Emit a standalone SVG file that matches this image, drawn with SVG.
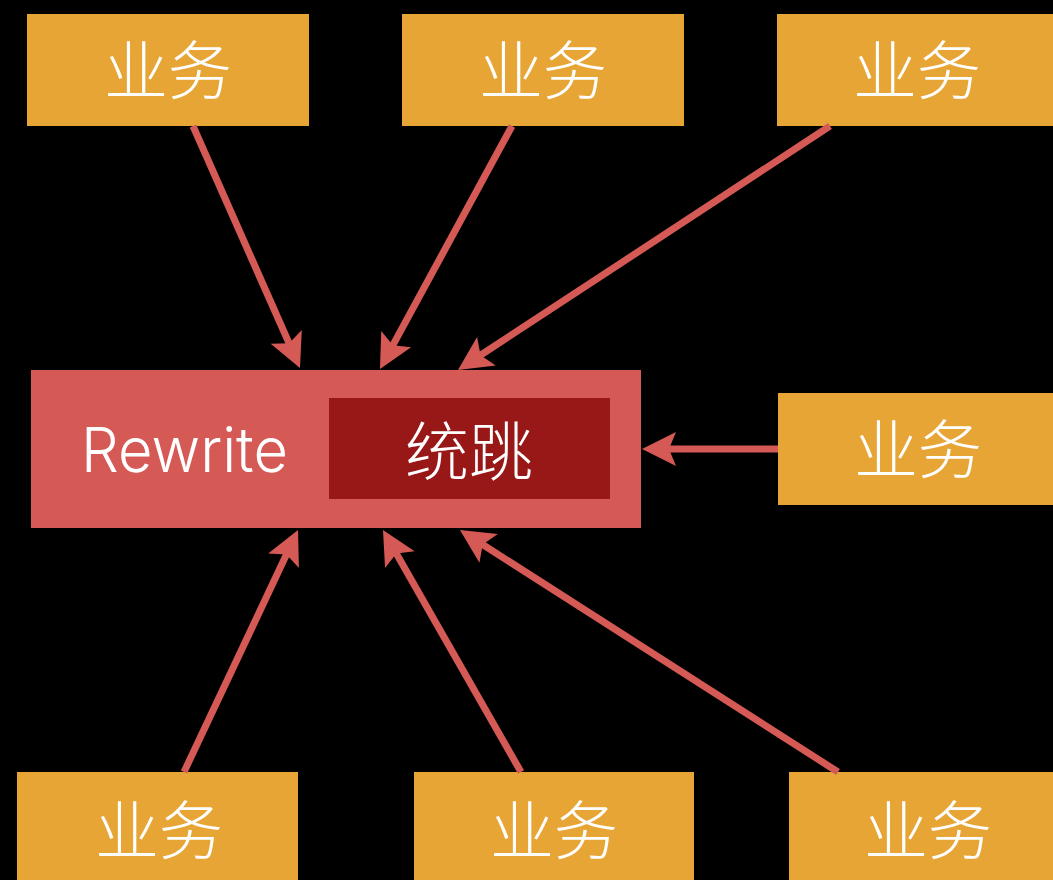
<svg xmlns="http://www.w3.org/2000/svg" width="1053" height="880" viewBox="0 0 1053 880">
<style>
.biz{fill:#E7A535}
.lbl{font-family:"Noto Sans CJK SC","Noto Sans",sans-serif;font-size:64px;font-weight:300;fill:#fff;text-anchor:middle}
.conn line{stroke:#D55A56;stroke-width:7;fill:none}
</style>
<defs>
<marker id="ah" viewBox="0 0 34 34" markerUnits="userSpaceOnUse" markerWidth="34" markerHeight="34" refX="14" refY="17" orient="auto" overflow="visible">
<path d="M0,0 L34,17 L0,34 L7,17 Z" fill="#D55A56"/>
</marker>
</defs>
<rect width="1053" height="880" fill="#000"/>
<g id="core">
<rect x="31" y="370" width="610" height="158" fill="#D55A56"/>
<text x="81" y="472" textLength="207" lengthAdjust="spacingAndGlyphs" font-family="Inter,'Liberation Sans',Arial,sans-serif" font-weight="300" font-size="62" fill="#fff">Rewrite</text>
</g>
<g id="tongtiao">
<rect x="329" y="398" width="281" height="101" fill="#981717"/>
<text class="lbl" x="469" y="475">统跳</text>
</g>
<g id="biz-top-left"><rect class="biz" x="27" y="14" width="282" height="112"/><text class="lbl" x="168" y="94">业务</text></g>
<g id="biz-top-mid"><rect class="biz" x="402" y="14" width="282" height="112"/><text class="lbl" x="543" y="94">业务</text></g>
<g id="biz-top-right"><rect class="biz" x="777" y="14" width="282" height="112"/><text class="lbl" x="917" y="94">业务</text></g>
<g id="biz-mid-right"><rect class="biz" x="778" y="393" width="282" height="112"/><text class="lbl" x="918" y="473">业务</text></g>
<g id="biz-bot-left"><rect class="biz" x="17" y="772" width="281" height="112"/><text class="lbl" x="159" y="854">业务</text></g>
<g id="biz-bot-mid"><rect class="biz" x="414" y="772" width="280" height="112"/><text class="lbl" x="554" y="854">业务</text></g>
<g id="biz-bot-right"><rect class="biz" x="789" y="772" width="280" height="112"/><text class="lbl" x="928" y="854">业务</text></g>
<g id="connectors" class="conn">
<line x1="193" y1="126" x2="291.9" y2="349.7" marker-end="url(#ah)"/>
<line x1="512" y1="126" x2="389.5" y2="351.4" marker-end="url(#ah)"/>
<line x1="830" y1="126" x2="474.7" y2="359.0" marker-end="url(#ah)"/>
<line x1="778" y1="449" x2="662" y2="449" marker-end="url(#ah)"/>
<line x1="184" y1="772" x2="289.5" y2="548.1" marker-end="url(#ah)"/>
<line x1="521" y1="772" x2="392.9" y2="547.4" marker-end="url(#ah)"/>
<line x1="838" y1="772" x2="476.8" y2="540.8" marker-end="url(#ah)"/>
</g>
</svg>
